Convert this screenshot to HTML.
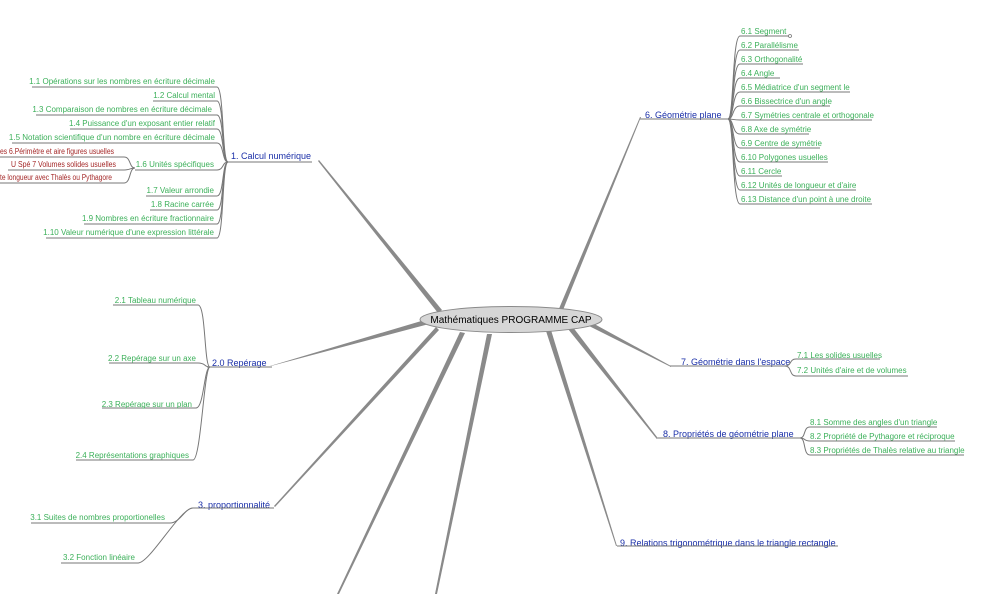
<!DOCTYPE html>
<html><head><meta charset="utf-8"><style>
html,body{margin:0;padding:0;background:#fff;width:1003px;height:594px;overflow:hidden}
svg{display:block}
text{font-family:"Liberation Sans",Arial,sans-serif}
.g{fill:#3cb05a;font-size:8px}
.r{fill:#a42828;font-size:8px}
.b{fill:#1a2fa8;font-size:9px}
.l{fill:none;stroke:#777;stroke-width:1}
.br{fill:#8a8a8a}
</style></head><body>
<svg width="1003" height="594" viewBox="0 0 1003 594">
<polygon class="br" points="442,310 438,313 318,161 319,160"/>
<polygon class="br" points="558,311 563,310 641,117 640,117"/>
<polygon class="br" points="587,320 585,324 671,367 671,366"/>
<polygon class="br" points="572,326 568,329 656,438 657,437"/>
<polygon class="br" points="546,331 551,330 617,546 616,546"/>
<polygon class="br" points="428,319 429,324 271,366 270,366"/>
<polygon class="br" points="436,327 439,330 275,507 274,506"/>
<polygon class="br" points="460,332 465,333 339,594 337,594"/>
<polygon class="br" points="487,334 492,334 437,594 435,594"/>

<ellipse cx="511" cy="319.5" rx="91" ry="13" fill="#d6d6d6" stroke="#8a8a8a" stroke-width="1"/>
<text x="511" y="323" text-anchor="middle" style="font-size:10px;fill:#000">Mathématiques PROGRAMME CAP</text>

<!-- 1 -->
<text class="b" x="231" y="159">1. Calcul numérique</text>
<line x1="228" y1="162" x2="312" y2="162" stroke="#777"/>
<path class="l" d="M32 87 H217 C224 87 222 162 228 162"/>
<path class="l" d="M153 101 H217 C224 101 222 162 228 162"/>
<path class="l" d="M36 115 H217 C224 115 222 162 228 162"/>
<path class="l" d="M70 129 H217 C224 129 222 162 228 162"/>
<path class="l" d="M12 143 H217 C224 143 222 162 228 162"/>
<path class="l" d="M135 170 H217 C224 170 222 162 228 162"/>
<path class="l" d="M146 196 H217 C224 196 222 162 228 162"/>
<path class="l" d="M150 210 H217 C224 210 222 162 228 162"/>
<path class="l" d="M84 224 H217 C224 224 222 162 228 162"/>
<path class="l" d="M46 238 H217 C224 238 222 162 228 162"/>
<g class="g" text-anchor="end">
<text x="215" y="84">1.1 Opérations sur les nombres en écriture décimale</text>
<text x="215" y="98">1.2 Calcul mental</text>
<text x="212" y="112">1.3 Comparaison de nombres en écriture décimale</text>
<text x="215" y="126">1.4 Puissance d'un exposant entier relatif</text>
<text x="215" y="140">1.5 Notation scientifique d'un nombre en écriture décimale</text>
<text x="214" y="167">1.6 Unités spécifiques</text>
<text x="214" y="193">1.7 Valeur arrondie</text>
<text x="214" y="207">1.8 Racine carrée</text>
<text x="214" y="221">1.9 Nombres en écriture fractionnaire</text>
<text x="214" y="235">1.10 Valeur numérique d'une expression littérale</text>
</g>
<path class="l" d="M0 157 H124 C131 157 129 168 135 168"/>
<path class="l" d="M8 170 H124 C130 170 130 168 135 168"/>
<path class="l" d="M0 183 H124 C131 183 129 168 135 168"/>
<g class="r">
<text x="0" y="154" textLength="114" lengthAdjust="spacingAndGlyphs">es 6.Périmètre et aire figures usuelles</text>
<text x="11" y="167" textLength="105" lengthAdjust="spacingAndGlyphs">U Spé  7 Volumes solides usuelles</text>
<text x="0" y="180" textLength="112" lengthAdjust="spacingAndGlyphs">te longueur avec Thalès ou Pythagore</text>
</g>

<!-- 2 -->
<text class="b" x="212" y="366">2.0 Repérage</text>
<line x1="207" y1="367" x2="272" y2="367" stroke="#777"/>
<path class="l" d="M113 305 H198 C206 305 204 367 210 367"/>
<path class="l" d="M109 363 H198 C206 363 204 367 210 367"/>
<path class="l" d="M102 408 H196 C204 408 204 367 210 367"/>
<path class="l" d="M76 460 H193 C201 460 204 367 210 367"/>
<g class="g" text-anchor="end">
<text x="196" y="303">2.1 Tableau numérique</text>
<text x="196" y="361">2.2 Repérage sur un axe</text>
<text x="192" y="407">2.3 Repérage sur un plan</text>
<text x="189" y="458">2.4 Représentations graphiques</text>
</g>

<!-- 3 -->
<text class="b" x="198" y="508">3. proportionnalité</text>
<line x1="193" y1="508" x2="274" y2="508" stroke="#777"/>
<path class="l" d="M31 523 H170 C180 523 185 508 193 508"/>
<path class="l" d="M61 563 H138 C150 563 180 508 193 508"/>
<g class="g" text-anchor="end">
<text x="165" y="520">3.1 Suites de nombres proportionelles</text>
<text x="135" y="560">3.2 Fonction linéaire</text>
</g>

<!-- 6 -->
<text class="b" x="645" y="118">6. Géométrie plane</text>
<line x1="640" y1="119" x2="728" y2="119" stroke="#777"/>
<g class="l">
<path d="M728 119 C734 119 732 36 740 36 H790"/>
<path d="M728 119 C734 119 732 50 740 50 H799"/>
<path d="M728 119 C734 119 732 64 740 64 H803"/>
<path d="M728 119 C734 119 732 78 740 78 H780"/>
<path d="M728 119 C734 119 732 92 740 92 H850"/>
<path d="M728 119 C734 119 732 106 740 106 H830"/>
<path d="M728 119 C734 119 732 120 740 120 H872"/>
<path d="M728 119 C734 119 732 134 740 134 H809"/>
<path d="M728 119 C734 119 732 148 740 148 H820"/>
<path d="M728 119 C734 119 732 162 740 162 H828"/>
<path d="M728 119 C734 119 732 176 740 176 H782"/>
<path d="M728 119 C734 119 732 190 740 190 H856"/>
<path d="M728 119 C734 119 732 204 740 204 H872"/>
</g>
<circle cx="790" cy="36" r="1.5" fill="#fff" stroke="#777" stroke-width="0.8"/>
<g class="g">
<text x="741" y="34">6.1 Segment</text>
<text x="741" y="48">6.2 Parallélisme</text>
<text x="741" y="62">6.3 Orthogonalité</text>
<text x="741" y="76">6.4  Angle</text>
<text x="741" y="90">6.5 Médiatrice d'un segment le</text>
<text x="741" y="104">6.6 Bissectrice d'un angle</text>
<text x="741" y="118">6.7 Symétries centrale et orthogonale</text>
<text x="741" y="132">6.8 Axe de symétrie</text>
<text x="741" y="146">6.9 Centre de symétrie</text>
<text x="741" y="160">6.10 Polygones usuelles</text>
<text x="741" y="174">6.11 Cercle</text>
<text x="741" y="188">6.12 Unités de longueur et d'aire</text>
<text x="741" y="202">6.13 Distance d'un point à une droite</text>
</g>

<!-- 7 -->
<text class="b" x="681" y="365">7. Géométrie dans l'espace</text>
<line x1="670" y1="366" x2="785" y2="366" stroke="#777"/>
<path class="l" d="M785 366 C792 366 789 359 796 359 H880"/>
<path class="l" d="M785 366 C792 366 789 376 796 376 H908"/>
<g class="g">
<text x="797" y="358">7.1 Les solides usuelles</text>
<text x="797" y="373">7.2 Unités d'aire et de volumes</text>
</g>

<!-- 8 -->
<text class="b" x="663" y="437">8. Propriétés de géométrie plane</text>
<line x1="656" y1="438" x2="800" y2="438" stroke="#777"/>
<path class="l" d="M800 438 C806 438 803 427 810 427 H937"/>
<path class="l" d="M800 438 C806 438 803 441 810 441 H955"/>
<path class="l" d="M800 438 C806 438 803 455 810 455 H964"/>
<g class="g">
<text x="810" y="425">8.1 Somme des angles d'un triangle</text>
<text x="810" y="439">8.2 Propriété de Pythagore et réciproque</text>
<text x="810" y="453">8.3 Propriétés de Thalès relative au triangle</text>
</g>

<!-- 9 -->
<text class="b" x="620" y="546">9. Relations trigonométrique dans le triangle rectangle</text>
<line x1="617" y1="546" x2="838" y2="546" stroke="#777"/>
</svg>
</body></html>
